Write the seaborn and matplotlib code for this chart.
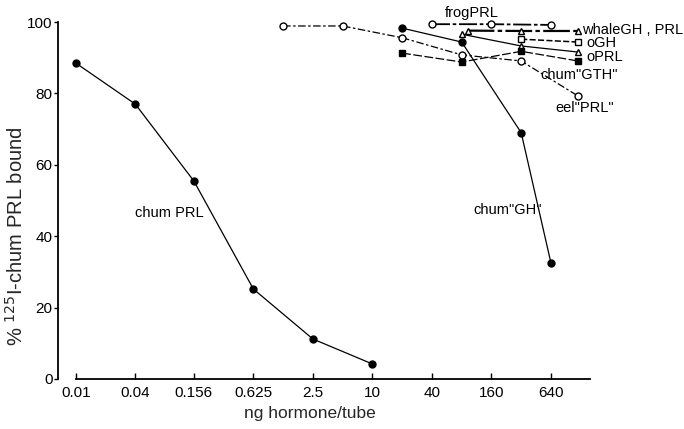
import matplotlib
matplotlib.use("Agg")
import matplotlib.pyplot as plt
from matplotlib.ticker import FixedLocator, NullLocator
import seaborn as sns

sns.set_style("white")
plt.rcParams['font.family'] = ['Liberation Sans', 'DejaVu Sans']

# dose axis (ng hormone/tube), log steps of 4
tick_vals = [0.01, 0.04, 0.156, 0.625, 2.5, 10, 40, 160, 640]
tick_labels = ['0.01', '0.04', '0.156', '0.625', '2.5', '10', '40', '160', '640']

# % 125I-chum PRL bound for each hormone
chum_prl_dose = [0.01, 0.04, 0.156, 0.625, 2.5, 10]
chum_prl = [88.5, 77.0, 55.5, 25.2, 11.2, 4.2]

chum_gh_dose = [20, 80, 320, 640]
chum_gh = [98.3, 94.4, 69.0, 32.5]

eel_prl_dose = [1.25, 5, 20, 80, 320, 1200]
eel_prl = [98.9, 98.9, 95.6, 90.8, 89.1, 79.3]

frog_prl_dose = [40, 160, 640]
frog_prl = [99.4, 99.4, 99.2]

whale_dose = [92, 320, 1200]
whale = [97.6, 97.5, 97.5]

oprl_dose = [80, 320, 1200]
oprl = [96.6, 93.3, 91.6]

ogh_dose = [320, 1200]
ogh = [95.2, 94.4]

chum_gth_dose = [20, 80, 320, 1200]
chum_gth = [91.3, 88.8, 91.8, 89.1]

fig = plt.figure(figsize=(6.84, 4.29), dpi=100)
ax = fig.add_axes([0.0848, 0.1166, 0.782, 0.832])
ax.set_xscale('log')


def draw(x, y, marker, filled, ls, lw=0.9, ms=5):
    sns.lineplot(
        x=x, y=y, ax=ax, color='black', linestyle=ls, linewidth=lw,
        marker=marker, markersize=ms, markeredgewidth=1.0,
        markeredgecolor='black',
        markerfacecolor='black' if filled else 'white',
        clip_on=False, zorder=3
    )


draw(chum_prl_dose, chum_prl, 'o', True, '-')
draw(chum_gh_dose, chum_gh, 'o', True, '-')
draw(eel_prl_dose, eel_prl, 'o', False, (0, (6, 2, 2, 2)))
draw(frog_prl_dose, frog_prl, 'o', False, (0, (10, 1.5, 2, 1.5)), lw=1.3)
draw(whale_dose, whale, '^', False, (0, (12, 1.5, 2, 1.5)), lw=1.6)
draw(oprl_dose, oprl, '^', False, '-')
draw(ogh_dose, ogh, 's', False, (0, (4, 1.5)), lw=1.1, ms=4.5)
draw(chum_gth_dose, chum_gth, 's', True, (0, (7, 2)), ms=4.5)

ax.set_xlim(0.0066, 1700)
ax.set_ylim(0, 100)
ax.xaxis.set_major_locator(FixedLocator(tick_vals))
ax.xaxis.set_minor_locator(NullLocator())
ax.set_xticklabels(tick_labels)
ax.set_yticks([0, 20, 40, 60, 80, 100])
ax.set_yticklabels(['0', '20', '40', '60', '80', '100'])

sns.despine(ax=ax)
ax.spines['bottom'].set_bounds(0.01, 1590)
for side in ['left', 'bottom']:
    ax.spines[side].set_color('black')
    ax.spines[side].set_linewidth(1.3)
ax.tick_params(axis='x', direction='in', length=4, width=1.0,
               pad=5, labelsize=11, colors='black', bottom=True)
ax.tick_params(axis='y', direction='out', length=3, width=1.0,
               pad=1, labelsize=11, colors='black', left=True)

ax.set_xlabel('ng hormone/tube', fontsize=12.5)
ax.xaxis.set_label_coords(0.47, -0.075)
ax.set_ylabel('% $^{125}$I-chum PRL bound', fontsize=14.5)
ax.yaxis.set_label_coords(-0.058, 0.40)

lbl = dict(fontsize=10.5, ha='left', va='center', color='black')
ax.text(0.0395, 46.5, 'chum PRL', **lbl)
ax.text(104, 47.3, 'chum"GH"', **lbl)
ax.text(54, 102.5, 'frogPRL', **lbl)
ax.text(1330, 97.8, 'whaleGH , PRL', **lbl)
ax.text(1470, 94.1, 'oGH', **lbl)
ax.text(1470, 90.2, 'oPRL', **lbl)
ax.text(505, 85.2, 'chum"GTH"', **lbl)
ax.text(704, 75.9, 'eel"PRL"', **lbl)

fig.savefig('out.png', dpi=100)
